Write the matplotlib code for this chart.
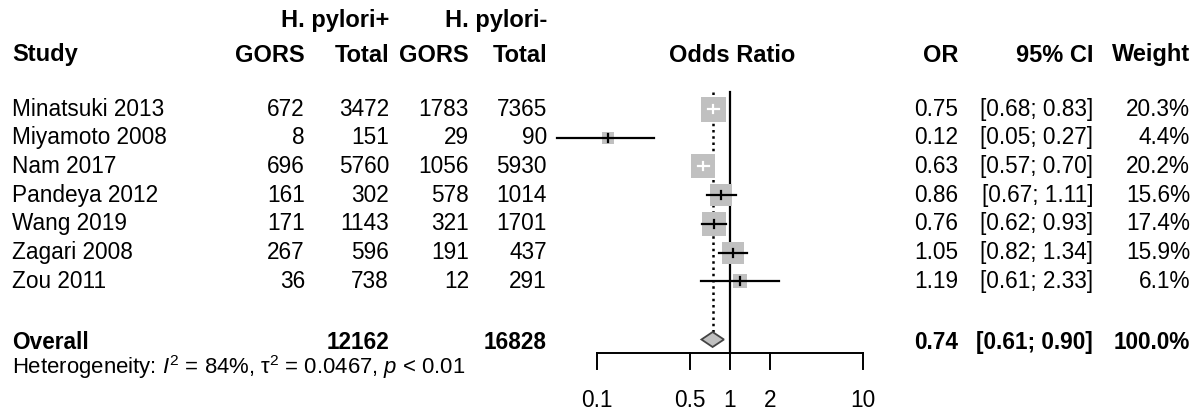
import numpy as np
import matplotlib
matplotlib.use("Agg")
import matplotlib.pyplot as plt

plt.rcParams['font.family'] = ['Liberation Sans', 'DejaVu Sans']
plt.rcParams['mathtext.fontset'] = 'custom'
plt.rcParams['mathtext.rm'] = 'Liberation Sans'
plt.rcParams['mathtext.it'] = 'Liberation Sans:italic'

studies = ["Minatsuki 2013", "Miyamoto 2008", "Nam 2017", "Pandeya 2012",
           "Wang 2019", "Zagari 2008", "Zou 2011"]
pos_gors = [672, 8, 696, 161, 171, 267, 36]
pos_total = [3472, 151, 5760, 302, 1143, 596, 738]
neg_gors = [1783, 29, 1056, 578, 321, 191, 12]
neg_total = [7365, 90, 5930, 1014, 1701, 437, 291]
odds = [0.75, 0.12, 0.63, 0.86, 0.76, 1.05, 1.19]
ci_lo = [0.68, 0.05, 0.57, 0.67, 0.62, 0.82, 0.61]
ci_hi = [0.83, 0.27, 0.70, 1.11, 0.93, 1.34, 2.33]
weights = [20.3, 4.4, 20.2, 15.6, 17.4, 15.9, 6.1]

overall_or, overall_lo, overall_hi = 0.74, 0.61, 0.90
overall_pos_total, overall_neg_total = 12162, 16828
het_text = r"Heterogeneity: $\mathit{I}^{2}$ = 84%, τ$^{2}$ = 0.0467, $\mathit{p}$ < 0.01"

axis_ticks = [0.1, 0.5, 1, 2, 10]

W, H = 1200, 415
fig = plt.figure(figsize=(W / 100, H / 100), dpi=100)

# text layer in pixel coordinates
ax = fig.add_axes([0, 0, 1, 1])
ax.set_xlim(0, W)
ax.set_ylim(H, 0)
ax.axis("off")

# forest layer: log x, same pixel y
px1, ppd = 730, 133.0   # pixel of OR=1, pixels per decade
fl, fr = 530, 930
fx = fig.add_axes([fl / W, 0, (fr - fl) / W, 1])
fx.set_xscale("log")
fx.set_xlim(10 ** ((fl - px1) / ppd), 10 ** ((fr - px1) / ppd))
fx.set_ylim(H, 0)
fx.axis("off")
fx.patch.set_alpha(0)

fs = 16.3
fb = 17
row0, dy = 109, 28.7
rows = [row0 + i * dy for i in range(len(studies))]
y_over = 342
y_het = 367
y_h1, y_h2 = 21, 55

c_ge, c_t1, c_gn, c_t2 = 305, 389, 469, 547
c_or, c_ci, c_w = 958, 1093, 1190

# headers
ax.text(c_t1, y_h1, "H. pylori+", ha="right", va="center", fontsize=fb, weight="bold")
ax.text(c_t2, y_h1, "H. pylori-", ha="right", va="center", fontsize=fb, weight="bold")
for x, s, ha in [(12, "Study", "left"), (c_ge, "GORS", "right"), (c_t1, "Total", "right"),
                 (c_gn, "GORS", "right"), (c_t2, "Total", "right"),
                 (px1 + 2, "Odds Ratio", "center"), (c_or, "OR", "right"),
                 (c_ci, "95% CI", "right"), (c_w, "Weight", "right")]:
    ax.text(x, y_h2, s, ha=ha, va="center", fontsize=fb, weight="bold")

# study rows
for i, y in enumerate(rows):
    ax.text(12, y, studies[i], ha="left", va="center", fontsize=fs)
    ax.text(c_ge, y, str(pos_gors[i]), ha="right", va="center", fontsize=fs)
    ax.text(c_t1, y, str(pos_total[i]), ha="right", va="center", fontsize=fs)
    ax.text(c_gn, y, str(neg_gors[i]), ha="right", va="center", fontsize=fs)
    ax.text(c_t2, y, str(neg_total[i]), ha="right", va="center", fontsize=fs)
    ax.text(c_or, y, f"{odds[i]:.2f}", ha="right", va="center", fontsize=fs)
    ax.text(c_ci, y, f"[{ci_lo[i]:.2f}; {ci_hi[i]:.2f}]", ha="right", va="center", fontsize=fs)
    ax.text(c_w, y, f"{weights[i]:.1f}%", ha="right", va="center", fontsize=fs)

# overall row
ax.text(12, y_over, "Overall", ha="left", va="center", fontsize=fs, weight="bold")
ax.text(c_t1, y_over, str(overall_pos_total), ha="right", va="center", fontsize=fs, weight="bold")
ax.text(c_t2, y_over, str(overall_neg_total), ha="right", va="center", fontsize=fs, weight="bold")
ax.text(c_or, y_over, f"{overall_or:.2f}", ha="right", va="center", fontsize=fs, weight="bold")
ax.text(c_ci, y_over, f"[{overall_lo:.2f}; {overall_hi:.2f}]", ha="right", va="center",
        fontsize=fs, weight="bold")
ax.text(c_w, y_over, "100.0%", ha="right", va="center", fontsize=fs, weight="bold")
ax.text(12, y_het, het_text, ha="left", va="center", fontsize=15.9)

# reference lines
y_top, y_axis = 92, 353
fx.plot([1, 1], [y_top, y_axis], color="black", lw=1.6)
fx.plot([overall_or, overall_or], [y_top, 332], color="black", lw=1.8,
        linestyle=(0, (1, 1.5)))

# boxes and CIs
k = 25 / np.sqrt(20.3)
for i, y in enumerate(rows):
    side = k * np.sqrt(weights[i])
    fx.scatter([odds[i]], [y], marker="s", s=(side * 0.72) ** 2, color="#c0c0c0",
               linewidths=0, zorder=3)
    half = side / 2 / ppd
    lx, hx = np.log10(ci_lo[i]), np.log10(ci_hi[i])
    cx = np.log10(odds[i])
    inside = lx > cx - half and hx < cx + half
    col = "white" if inside else "black"
    fx.plot([ci_lo[i], ci_hi[i]], [y, y], color=col, lw=1.6, zorder=4)
    fx.plot([odds[i], odds[i]], [y - 4, y + 4], color=col, lw=1.6, zorder=4)

# diamond
fx.fill([overall_lo, overall_or, overall_hi, overall_or],
        [339.5, 332, 339.5, 347], facecolor="#c0c0c0", edgecolor="#444444", lw=1.3, zorder=4)

# x axis
fx.plot([axis_ticks[0], axis_ticks[-1]], [y_axis, y_axis], color="black", lw=1.4)
for t in axis_ticks:
    fx.plot([t, t], [y_axis, y_axis + 16], color="black", lw=1.4)
    fx.text(t, 400, f"{t:g}", ha="center", va="center", fontsize=fs)

fig.savefig("out.png", dpi=100)
